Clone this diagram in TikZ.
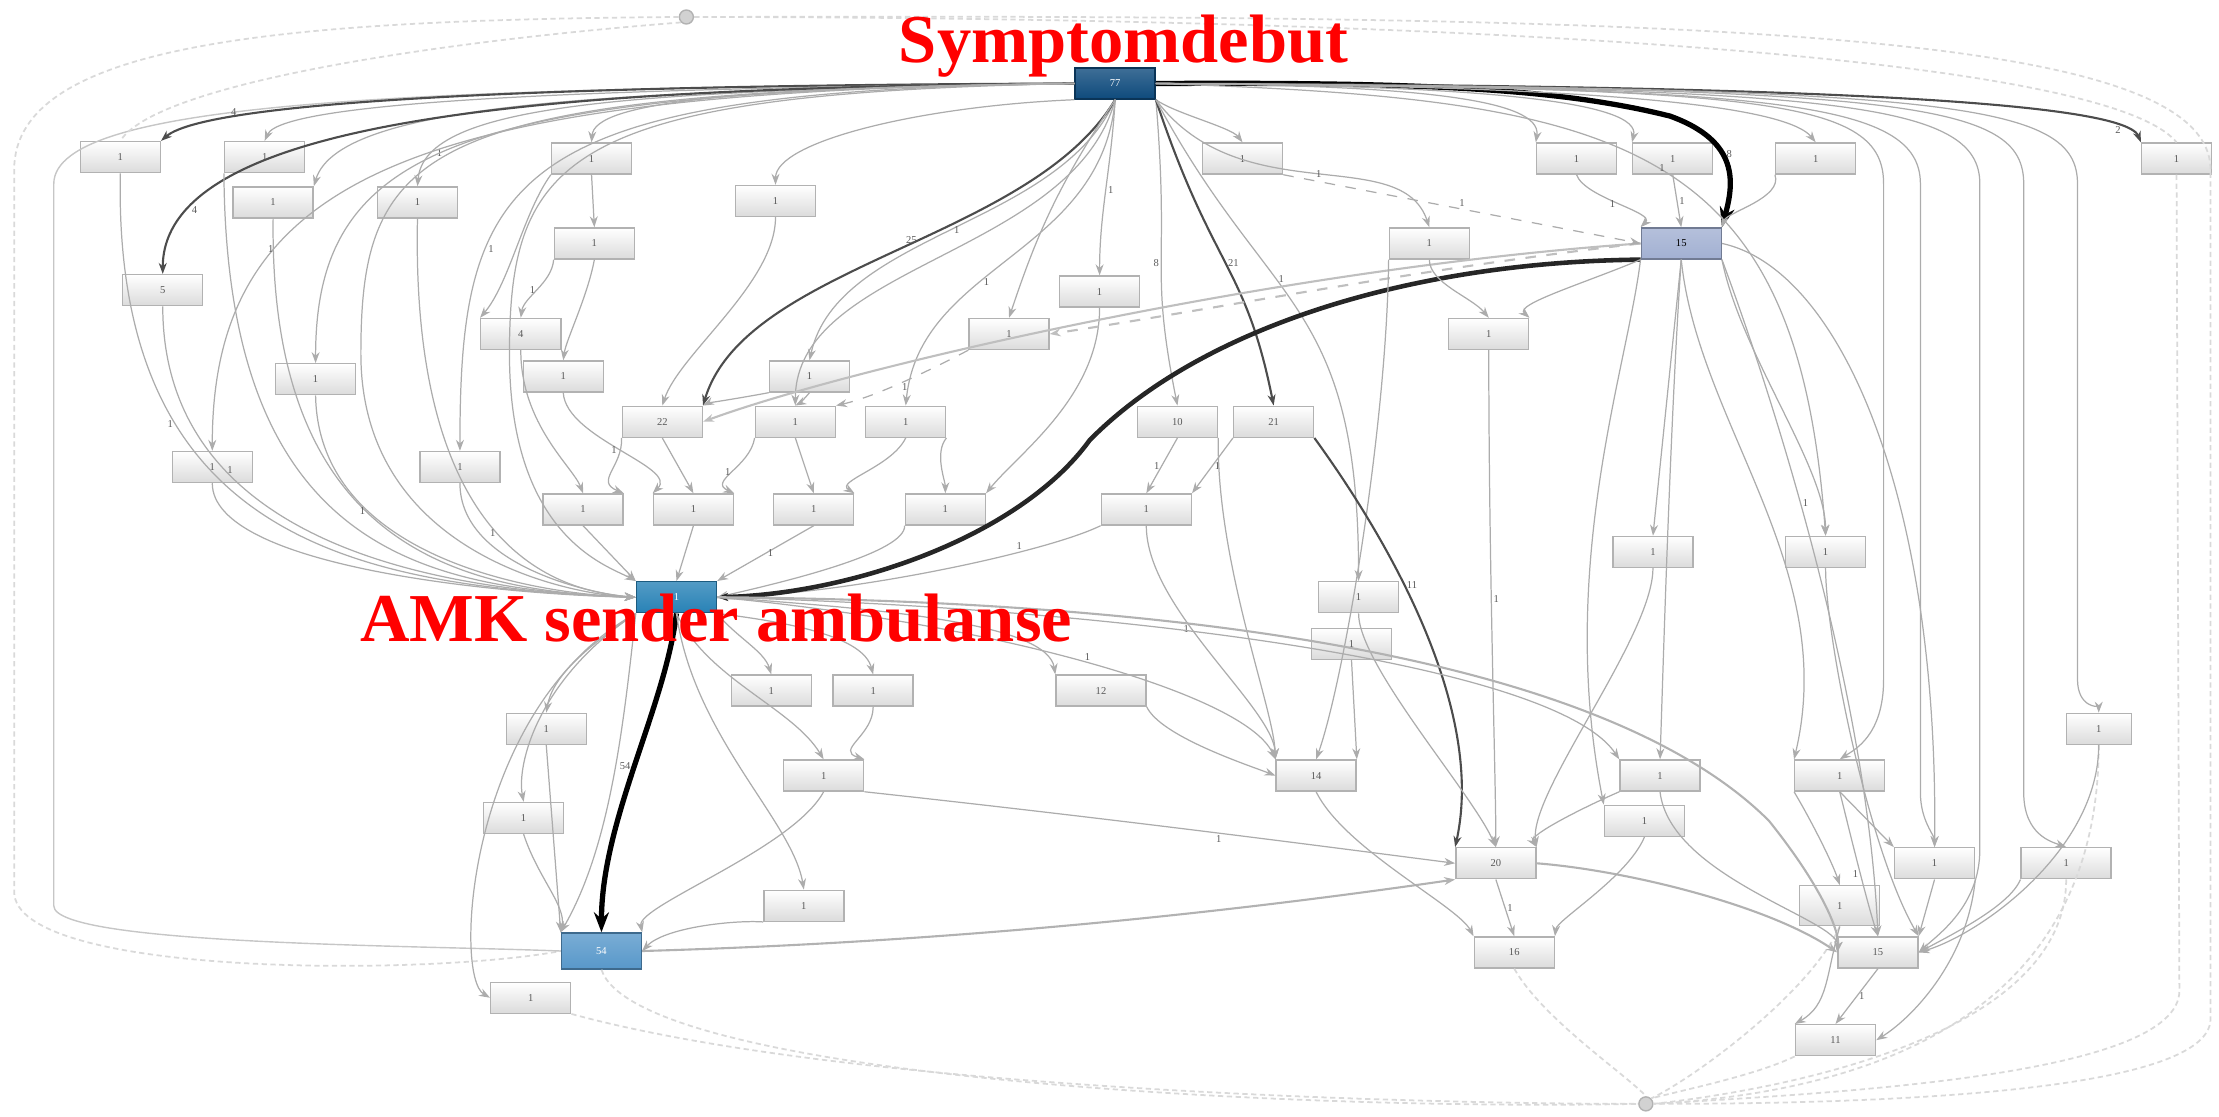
\documentclass[tikz,border=0pt]{standalone}
\usepackage{fontspec}
\setmainfont{Liberation Serif}
\usepackage{tikz}
\usetikzlibrary{arrows.meta}

\definecolor{sdblue}{RGB}{14,74,124}
\definecolor{amkblue}{RGB}{40,130,182}
\definecolor{tgtblue}{RGB}{88,152,202}
\definecolor{trblue}{RGB}{162,176,210}

\tikzset{
  act/.style={draw=gray!60, top color=white, bottom color=gray!28, minimum width=8mm,
    minimum height=3.1mm, inner sep=0pt, font=\fontsize{3}{3.5}\selectfont, text=gray!70!black},
  hub/.style={act, draw=#1!70!black, top color=#1!80, bottom color=#1, text=white},
  flow/.style={draw=gray!65, line width=.35pt, -{Stealth[length=1.1mm,width=.8mm]}},
  strong/.style={flow, draw=gray!60!black, line width=.6pt},
  heavy/.style={flow, draw=black, line width=1.5pt, -{Stealth[length=2mm,width=1.5mm]}},
  faint/.style={draw=gray!30, line width=.5pt, dash pattern=on 1.5pt off 1pt},
  outer/.style={draw=gray!45, line width=.4pt},
  lbl/.style={font=\fontsize{3}{3}\selectfont, text=gray!70!black, inner sep=.5pt},
  note/.style={text=red, font=\bfseries\fontsize{19.5}{21}\selectfont, inner sep=0pt, anchor=base},
  endpt/.style={circle, draw=gray!60, fill=gray!35, inner sep=0pt, minimum size=1.4mm}
}

\begin{document}
\begin{tikzpicture}[x=0.1415mm, y=-0.1415mm]
\useasboundingbox (0,0) rectangle (1568,789);

\node[endpt] (start) at (485,12) {};
\node[endpt] (stop) at (1163,780) {};

\node[hub=sdblue] (sd) at (788,59) {77};
\node[hub=amkblue] (amk) at (478,422) {1};
\node[hub=tgtblue, minimum height=3.6mm] (tgt) at (425,672) {54};
\node[hub=trblue, text=black] (tr) at (1188,172) {15};

\node[act] (a1) at (85,111) {1};
\node[act] (a2) at (187,111) {1};
\node[act] (a3) at (193,143) {1};
\node[act] (a4) at (295,143) {1};
\node[act] (a5) at (418,112) {1};
\node[act] (a6) at (548,142) {1};
\node[act] (a7) at (878,112) {1};
\node[act] (a8) at (1114,112) {1};
\node[act] (a9) at (1182,112) {1};
\node[act] (a10) at (1283,112) {1};
\node[act, minimum width=7mm] (a11) at (1538,112) {1};
\node[act] (a12) at (420,172) {1};
\node[act] (a13) at (115,205) {5};
\node[act] (a14) at (777,206) {1};
\node[act] (a15) at (1010,172) {1};
\node[act] (a17) at (368,236) {4};
\node[act] (a18) at (713,236) {1};
\node[act] (a19) at (1052,236) {1};
\node[act] (a20) at (223,268) {1};
\node[act] (a21) at (398,266) {1};
\node[act] (a22) at (572,266) {1};
\node[act] (a23) at (468,298) {22};
\node[act] (a24) at (562,298) {1};
\node[act] (a25) at (640,298) {1};
\node[act] (a26) at (832,298) {10};
\node[act] (a27) at (900,298) {21};
\node[act] (a28) at (150,330) {1};
\node[act] (a29) at (325,330) {1};
\node[act] (a30) at (412,360) {1};
\node[act] (a31) at (490,360) {1};
\node[act] (a32) at (575,360) {1};
\node[act] (a33) at (668,360) {1};
\node[act, minimum width=9mm] (a34) at (810,360) {1};
\node[act] (a35) at (1168,390) {1};
\node[act] (a36) at (1290,390) {1};
\node[act] (a37) at (960,422) {1};
\node[act] (a38) at (955,455) {1};
\node[act] (a39) at (545,488) {1};
\node[act] (a40) at (617,488) {1};
\node[act, minimum width=9mm] (a41) at (778,488) {12};
\node[act] (a42) at (386,515) {1};
\node[act, minimum width=6.5mm] (a43) at (1483,515) {1};
\node[act] (a44) at (582,548) {1};
\node[act] (a45) at (930,548) {14};
\node[act] (a46) at (1173,548) {1};
\node[act, minimum width=9mm] (a47) at (1300,548) {1};
\node[act] (a48) at (1162,580) {1};
\node[act] (a49) at (370,578) {1};
\node[act] (a50) at (1057,610) {20};
\node[act] (a51) at (1367,610) {1};
\node[act, minimum width=9mm] (a52) at (1460,610) {1};
\node[act, minimum height=4mm] (a53) at (1300,640) {1};
\node[act] (a54) at (568,640) {1};
\node[act] (a55) at (1070,673) {16};
\node[act] (a56) at (1327,673) {15};
\node[act] (a57) at (375,705) {1};
\node[act] (a58) at (1297,735) {11};

% outer loops
\draw[faint] (start.west) .. controls (200,14) and (10,30) .. (10,120) -- (10,630) .. controls (10,690) and (300,690) .. (tgt.west);
\draw[outer] (sd.west) .. controls (300,62) and (38,70) .. (38,130) -- (38,640) .. controls (38,668) and (300,668) .. (tgt.west);
\draw[faint] (start.south west) .. controls (300,30) and (110,60) .. (a1.north);
\draw[faint] (start.east) .. controls (900,12) and (1480,30) .. (a11.north);
\draw[faint] (start.east) .. controls (1200,10) and (1562,20) .. (1562,120) -- (1562,720) .. controls (1562,775) and (1300,780) .. (stop.east);
\draw[faint] (a11.south) -- (1540,700) .. controls (1540,760) and (1300,772) .. (stop.east);
\draw[faint] (a43.south) .. controls (1483,700) and (1350,770) .. (stop.east);
\draw[faint] (a52.south) .. controls (1460,720) and (1300,765) .. (stop.east);
\draw[faint] (tgt.south) .. controls (450,760) and (900,785) .. (stop.west);
\draw[faint] (a57.south east) .. controls (600,770) and (1000,780) .. (stop.west);
\draw[faint] (a55.south) .. controls (1090,720) and (1150,760) .. (stop.north);
\draw[faint] (a58.south west) .. controls (1240,760) and (1190,770) .. (stop.north east);
\draw[faint] (a53.south) .. controls (1280,700) and (1200,760) .. (stop.north east);

% Symptomdebut, to the left
\draw[strong] (sd.west) .. controls (450,60) and (150,68) .. (a1.north east) node[lbl, pos=.8, above] {4};
\draw[flow] (sd.west) .. controls (450,62) and (200,70) .. (a2.north);
\draw[flow] (sd.west) .. controls (450,64) and (240,70) .. (a3.north east);
\draw[flow] (sd.west) .. controls (450,64) and (300,72) .. (a4.north) node[lbl, pos=.85, right] {1};
\draw[flow] (sd.west) .. controls (520,62) and (420,72) .. (a5.north);
\draw[strong] (sd.west) .. controls (400,62) and (115,80) .. (a13.north) node[lbl, pos=.85, right] {4};
\draw[flow] (sd.south west) .. controls (650,75) and (548,100) .. (a6.north);
\draw[flow] (sd.west) .. controls (330,64) and (223,100) .. (a20.north);
\draw[flow] (sd.west) .. controls (300,64) and (150,120) .. (a28.north) node[lbl, pos=.7, left] {1};
\draw[flow] (sd.west) .. controls (360,64) and (325,120) .. (a29.north) node[lbl, pos=.7, right] {1};
\draw[flow] (sd.west) .. controls (300,64) and (255,100) .. (255,250) .. controls (255,390) and (400,420) .. (amk.west);
\draw[flow] (sd.west) .. controls (400,66) and (360,110) .. (360,250) .. controls (360,380) and (430,400) .. (amk.north west);

% Symptomdebut, downwards
\draw[flow] (sd.south) .. controls (785,120) and (777,150) .. (a14.north) node[lbl, pos=.5, right] {1};
\draw[flow] (sd.south east) .. controls (830,80) and (870,90) .. (a7.north);
\draw[flow] (sd.south) .. controls +(-40,90) and +(20,-90) .. (a22.north) node[lbl, pos=.5, right] {1};
\draw[strong] (sd.south) .. controls +(-60,100) and +(30,-100) .. (a23.north east) node[lbl, pos=.45, left] {25};
\draw[flow] (sd.south) .. controls +(-30,110) and +(0,-100) .. (a24.north);
\draw[flow] (sd.south) .. controls +(-10,110) and +(10,-100) .. (a25.north) node[lbl, pos=.6, right] {1};
\draw[flow] (sd.south) .. controls +(-40,60) and +(20,-60) .. (a18.north);
\draw[flow] (sd.south east) .. controls +(10,120) and +(-20,-100) .. (a26.north) node[lbl, pos=.5, left] {8};
\draw[strong] (sd.south east) .. controls +(40,120) and +(-20,-100) .. (a27.north) node[lbl, pos=.5, right] {21};
\draw[flow] (sd.south east) .. controls +(60,80) and +(-20,-60) .. (a15.north) node[lbl, pos=.5, right] {1};
\draw[flow] (sd.south east) .. controls +(80,150) and +(0,-200) .. (a37.north) node[lbl, pos=.4, right] {1};

% Symptomdebut, to the right
\draw[heavy] (sd.east) .. controls (1000,58) and (1100,62) .. (1180,82) .. controls (1230,100) and (1225,130) .. (tr.north east) node[lbl, pos=.4, right] {8};
\draw[flow] (sd.east) .. controls (1000,60) and (1090,70) .. (a8.north west);
\draw[flow] (sd.east) .. controls (1050,60) and (1160,72) .. (a9.north west);
\draw[flow] (sd.east) .. controls (1100,60) and (1260,72) .. (a10.north);
\draw[strong] (sd.east) .. controls (1200,60) and (1500,68) .. (a11.north west) node[lbl, pos=.9, left] {2};
\draw[flow] (sd.east) .. controls (1250,62) and (1331,70) .. (1331,130) -- (1331,480) .. controls (1331,520) and (1310,530) .. (a47.north);
\draw[flow] (sd.east) .. controls (1250,62) and (1357,70) .. (1357,130) -- (1357,560) .. controls (1357,580) and (1367,590) .. (a51.north);
\draw[flow] (sd.east) .. controls (1300,62) and (1399,72) .. (1399,130) -- (1399,600) .. controls (1399,640) and (1370,660) .. (a56.east);
\draw[flow] (sd.east) .. controls (1350,62) and (1430,72) .. (1430,130) -- (1430,560) .. controls (1430,590) and (1450,595) .. (a52.north);
\draw[flow] (sd.east) .. controls (1380,62) and (1468,72) .. (1468,130) -- (1468,480) .. controls (1468,500) and (1483,500) .. (a43.north);
\draw[flow] (sd.east) .. controls (1150,70) and (1270,100) .. (a36.north) node[lbl, pos=.5, right] {1};

% around the left-hand column, into AMK
\draw[flow] (a1.south) .. controls (80,380) and (250,415) .. (amk.west) node[lbl, pos=.3, left] {1};
\draw[flow] (a2.south west) .. controls (160,390) and (300,416) .. (amk.west);
\draw[flow] (a13.south) .. controls (115,380) and (300,418) .. (amk.west) node[lbl, pos=.3, right] {1};
\draw[flow] (a3.south) .. controls (190,390) and (330,418) .. (amk.west);
\draw[flow] (a28.south) .. controls (150,400) and (350,420) .. (amk.west);
\draw[flow] (a20.south) .. controls (225,395) and (380,420) .. (amk.west) node[lbl, pos=.3, left] {1};
\draw[flow] (a4.south) .. controls (290,395) and (400,418) .. (amk.west) node[lbl, pos=.5, left] {1};
\draw[flow] (a29.south) .. controls (325,400) and (420,420) .. (amk.west);

% middle block
\draw[flow] (a5.south) -- (a12.north);
\draw[flow] (a12.south west) .. controls (390,200) and (370,210) .. (a17.north) node[lbl, pos=.5, left] {1};
\draw[flow] (a12.south) .. controls (415,210) and (400,240) .. (a21.north);
\draw[flow] (a5.south west) .. controls (370,150) and (360,200) .. (a17.north west);
\draw[flow] (a17.south) .. controls (368,300) and (405,330) .. (a30.north);
\draw[flow] (a21.south) .. controls (400,310) and (480,330) .. (a31.north west) node[lbl, pos=.5, left] {1};
\draw[flow] (a23.south) -- (a31.north);
\draw[flow] (a23.south west) .. controls (440,330) and (420,340) .. (a30.north east);
\draw[flow] (a24.south) -- (a32.north);
\draw[flow] (a24.south west) .. controls (530,330) and (500,340) .. (a31.north east) node[lbl, pos=.5, left] {1};
\draw[flow] (a25.south) .. controls (630,330) and (590,340) .. (a32.north east);
\draw[flow] (a25.south east) .. controls (660,320) and (668,340) .. (a33.north);
\draw[flow] (a22.south west) .. controls (530,280) and (500,285) .. (a23.north east);
\draw[flow] (a22.south) .. controls (570,280) and (565,285) .. (a24.north);
\draw[flow] (a6.south) .. controls (548,200) and (480,250) .. (a23.north);
\draw[flow] (a30.south) -- (amk.north west);
\draw[flow] (a31.south) -- (amk.north);
\draw[flow] (a32.south) -- (amk.north east) node[lbl, pos=.5, right] {1};
\draw[flow] (a33.south west) .. controls (640,390) and (560,410) .. (amk.east);
\draw[flow] (a34.south west) .. controls (740,390) and (600,420) .. (amk.east) node[lbl, pos=.3, above] {1};
\draw[flow] (a26.south) -- (a34.north) node[lbl, pos=.5, left] {1};
\draw[flow] (a27.south west) -- (a34.north east) node[lbl, pos=.5, right] {1};
\draw[flow] (a14.south) .. controls (777,280) and (720,320) .. (a33.north east);

% Transport hub
\draw[strong, draw=gray!30!black, line width=1.3pt] (tr.south west) .. controls (1000,185) and (850,230) .. (770,311) .. controls (720,380) and (600,420) .. (amk.east);
\draw[flow, draw=gray!50, line width=.6pt] (tr.west) .. controls (900,190) and (600,260) .. (a23.east);
\draw[flow, draw=gray!50, line width=.6pt, dashed] (tr.west) .. controls (1000,190) and (850,220) .. (a18.east);
\draw[flow, dashed] (a18.south west) .. controls (660,260) and (620,280) .. (a24.north east) node[lbl, pos=.5, below] {1};
\draw[flow, dashed] (a7.south east) -- (tr.west) node[lbl, pos=.5, above] {1};
\draw[flow] (a8.south) .. controls (1120,140) and (1170,150) .. (tr.north west) node[lbl, pos=.5, left] {1};
\draw[flow] (a9.south) -- (tr.north) node[lbl, pos=.5, right] {1};
\draw[flow] (a10.south west) .. controls (1260,140) and (1220,150) .. (tr.north east);
\draw[flow] (tr.south west) .. controls (1120,200) and (1070,215) .. (a19.north east);
\draw[flow] (tr.south) -- (a35.north);
\draw[flow] (tr.south east) .. controls (1230,250) and (1290,330) .. (a36.north);
\draw[flow] (tr.south) .. controls (1180,300) and (1175,480) .. (a46.north);
\draw[flow] (tr.south) .. controls (1200,300) and (1300,400) .. (a47.north west);
\draw[flow] (tr.east) .. controls (1300,190) and (1370,350) .. (a51.north);
\draw[flow] (tr.south east) .. controls (1260,300) and (1320,500) .. (a56.north) node[lbl, pos=.4, right] {1};
\draw[flow] (tr.south west) .. controls (1150,260) and (1100,400) .. (a48.north west);

% right of centre
\draw[flow] (a15.south) .. controls (1010,200) and (1040,210) .. (a19.north);
\draw[flow] (a15.south west) .. controls (980,300) and (950,480) .. (a45.north);
\draw[flow] (a19.south) .. controls (1052,400) and (1057,550) .. (a50.north) node[lbl, pos=.4, right] {1};
\draw[strong] (a27.south east) .. controls (980,380) and (1050,500) .. (a50.north west) node[lbl, pos=.4, right] {11};
\draw[flow] (a26.south east) .. controls (860,400) and (900,500) .. (a45.north west);
\draw[flow] (a34.south) .. controls (810,430) and (900,500) .. (a45.north west) node[lbl, pos=.4, left] {1};
\draw[flow] (a37.south) .. controls (960,470) and (1040,560) .. (a50.north);
\draw[flow] (a38.south) -- (a45.north east);
\draw[flow] (a35.south) .. controls (1168,450) and (1080,560) .. (a50.north east);
\draw[flow] (a36.south) .. controls (1290,450) and (1320,600) .. (a56.north east);

% AMK outputs
\draw[heavy] (amk.south) .. controls (470,500) and (425,580) .. (tgt.north) node[lbl, pos=.5, left] {54};
\draw[flow] (amk.south west) .. controls (440,520) and (430,600) .. (tgt.north west);
\draw[flow] (amk.south east) .. controls (520,450) and (540,460) .. (a39.north);
\draw[flow] (amk.south east) .. controls (560,440) and (610,450) .. (a40.north);
\draw[flow] (amk.east) .. controls (620,430) and (740,440) .. (a41.north west);
\draw[flow] (amk.south west) .. controls (410,460) and (390,480) .. (a42.north);
\draw[flow] (amk.south west) .. controls (380,480) and (365,540) .. (a49.north);
\draw[flow] (amk.south) .. controls (500,480) and (560,500) .. (a44.north);
\draw[flow] (amk.south) .. controls (490,520) and (560,580) .. (a54.north);
\draw[flow] (amk.south west) .. controls (330,500) and (320,690) .. (a57.west);
\draw[flow] (amk.east) .. controls (700,440) and (880,490) .. (a45.north west) node[lbl, pos=.5, above] {1};
\draw[flow] (amk.east) .. controls (800,430) and (1100,470) .. (a46.north west);
\draw[strong, draw=gray!60] (amk.east) .. controls (900,425) and (1150,480) .. (1250,580) .. controls (1290,630) and (1300,660) .. (a56.west);
\draw[flow] (a40.south) .. controls (617,520) and (590,530) .. (a44.north east);
\draw[flow] (a41.south east) .. controls (820,520) and (880,540) .. (a45.west);
\draw[flow] (a44.south) .. controls (560,600) and (450,640) .. (tgt.north east);
\draw[flow] (a42.south) -- (tgt.north west);
\draw[flow] (a49.south) .. controls (380,620) and (400,640) .. (tgt.north west);
\draw[flow] (a54.south west) .. controls (520,650) and (470,655) .. (tgt.east);
\draw[flow] (a44.south east) .. controls (800,580) and (950,600) .. (a50.west) node[lbl, pos=.5, below] {1};
\draw[strong, draw=gray!60] (tgt.east) .. controls (700,665) and (900,640) .. (a50.south west);

% lower right
\draw[flow] (a45.south) .. controls (950,600) and (1030,640) .. (a55.north west);
\draw[flow] (a50.south) -- (a55.north) node[lbl, pos=.5, right] {1};
\draw[strong, draw=gray!60] (a50.east) .. controls (1150,615) and (1250,640) .. (a56.west);
\draw[flow] (a48.south) .. controls (1150,620) and (1100,650) .. (a55.north east);
\draw[flow] (a46.south west) .. controls (1120,570) and (1080,590) .. (a50.north east);
\draw[flow] (a46.south) .. controls (1180,620) and (1300,650) .. (a56.west);
\draw[flow] (a47.south) -- (a51.north west);
\draw[flow] (a47.south west) .. controls (1280,580) and (1295,610) .. (a53.north);
\draw[flow] (a47.south) .. controls (1310,600) and (1320,640) .. (a56.north) node[lbl, pos=.5, left] {1};
\draw[flow] (a51.south) -- (a56.north east);
\draw[flow] (a52.south west) .. controls (1420,640) and (1380,660) .. (a56.east);
\draw[flow] (a43.south) .. controls (1483,600) and (1400,660) .. (a56.east);
\draw[flow] (a56.south) -- (a58.north) node[lbl, pos=.5, right] {1};
\draw[flow] (a53.south) .. controls (1290,690) and (1292,710) .. (a58.north west);
\draw[flow] (a51.south east) .. controls (1390,680) and (1350,720) .. (a58.east);

% annotations
\node[note] (symp) at (794,44.5) {Symptomdebut};
\node[note] (amkt) at (506,453) {AMK sender ambulanse};
\end{tikzpicture}
\end{document}
